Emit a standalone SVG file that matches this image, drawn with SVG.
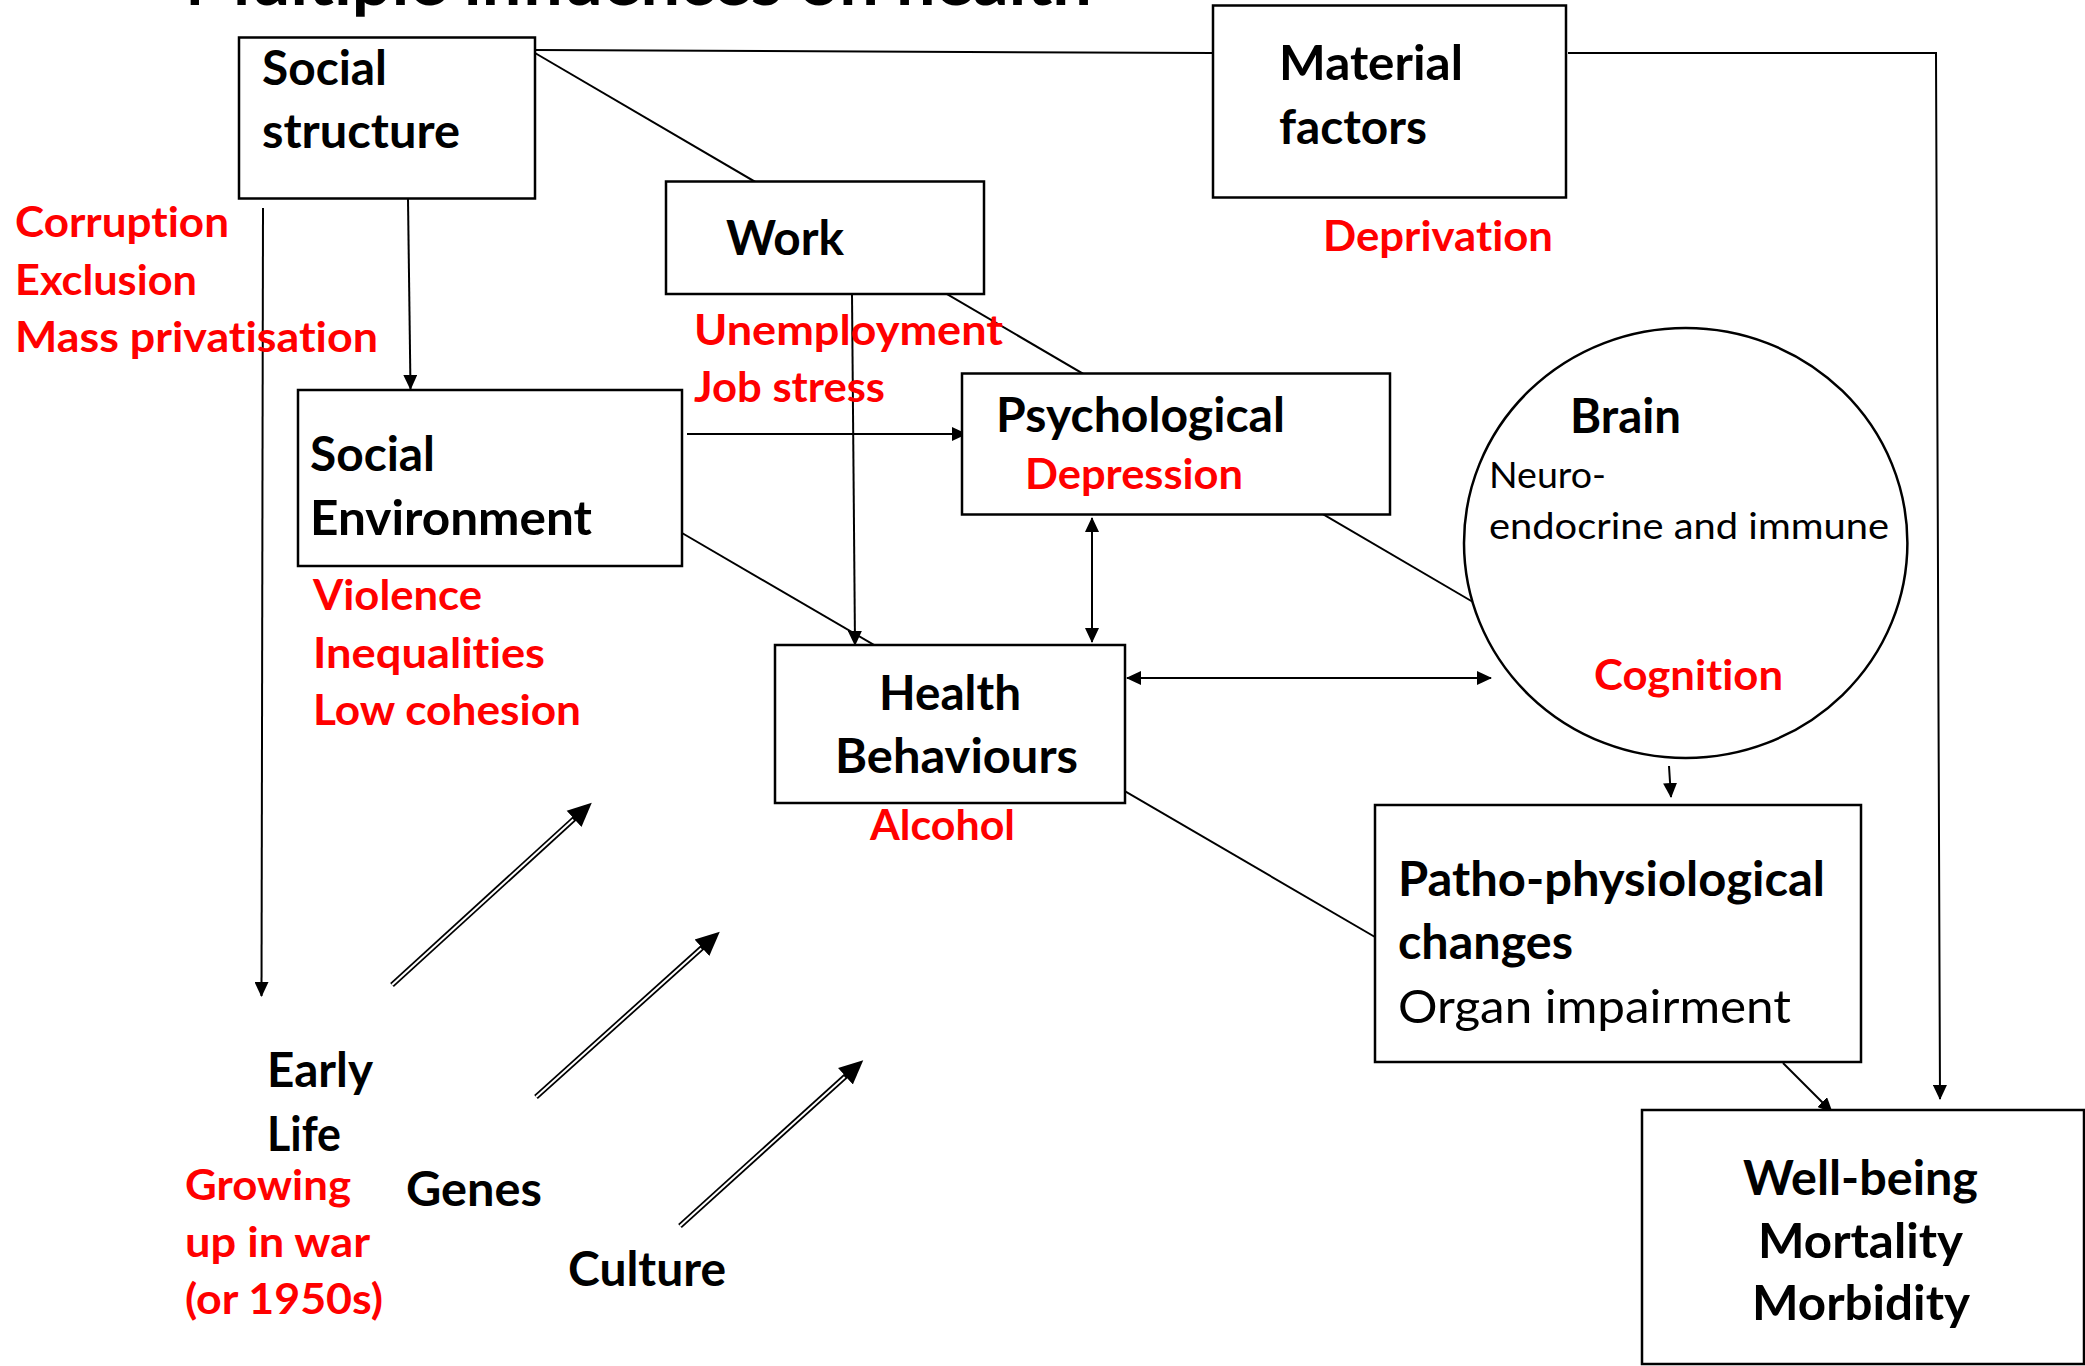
<svg xmlns="http://www.w3.org/2000/svg" width="2085" height="1366" viewBox="0 0 2085 1366">
<style>
.box{fill:#fff;stroke:#000;stroke-width:2.5}
.ln{fill:none;stroke:#000;stroke-width:2}
.dbl{fill:none;stroke:#000;stroke-width:5.5}
.dblw{fill:none;stroke:#fff;stroke-width:2}
text{font-family:Lato,"Liberation Sans",sans-serif;font-variant-ligatures:none;font-feature-settings:"liga" 0,"clig" 0}
.b{font-weight:700;font-size:47px;fill:#000}
.t{font-weight:700;font-size:66px;fill:#000}
.n{font-weight:400;fill:#000}
.r{font-weight:700;font-size:42px;fill:#ff0000}
</style>
<defs>
<marker id="ah" markerUnits="userSpaceOnUse" viewBox="0 0 15 14" markerWidth="15" markerHeight="14" refX="14" refY="7" orient="auto-start-reverse">
<path d="M0,0 L15,7 L0,14 z" fill="#000"/>
</marker>
<marker id="bh" markerUnits="userSpaceOnUse" viewBox="0 0 25 24" markerWidth="25" markerHeight="24" refX="1" refY="12" orient="auto">
<path d="M0,1 L24,12 L0,23 z" fill="#000"/>
</marker>
</defs>
<rect width="2085" height="1366" fill="#fff"/>

<text class="t" x="185" y="5" textLength="907" lengthAdjust="spacingAndGlyphs">Multiple influences on health</text>

<g id="connectors">
<line class="ln" x1="535" y1="50" x2="1213" y2="53"/>
<line class="ln" x1="535" y1="53" x2="1473" y2="602"/>
<line class="ln" x1="682" y1="533" x2="1375" y2="937"/>
<path class="ln" d="M1568,53 L1936,53 L1940,1099" marker-end="url(#ah)"/>
<line class="ln" x1="408" y1="199" x2="410.5" y2="389" marker-end="url(#ah)"/>
<line class="ln" x1="263" y1="208" x2="261.5" y2="996" marker-end="url(#ah)"/>
<line class="ln" x1="687" y1="434" x2="966" y2="434" marker-end="url(#ah)"/>
<line class="ln" x1="852" y1="294" x2="855" y2="645" marker-end="url(#ah)"/>
<line class="ln" x1="1092" y1="518" x2="1092" y2="642" marker-start="url(#ah)" marker-end="url(#ah)"/>
<line class="ln" x1="1127" y1="678" x2="1491" y2="678" marker-start="url(#ah)" marker-end="url(#ah)"/>
<line class="ln" x1="1669" y1="766" x2="1671" y2="797" marker-end="url(#ah)"/>
<line class="ln" x1="1783" y1="1063" x2="1832" y2="1112" marker-end="url(#ah)"/>
<g id="double-arrows">
<line class="dbl" x1="392" y1="985" x2="574.8" y2="818.2" marker-end="url(#bh)"/>
<line class="dblw" x1="392" y1="985" x2="573.3" y2="819.5"/>
<line class="dbl" x1="536" y1="1097" x2="702.7" y2="947.1" marker-end="url(#bh)"/>
<line class="dblw" x1="536" y1="1097" x2="701.2" y2="948.4"/>
<line class="dbl" x1="680" y1="1226" x2="846.2" y2="1075.6" marker-end="url(#bh)"/>
<line class="dblw" x1="680" y1="1226" x2="844.7" y2="1076.9"/>
</g>
</g>

<g id="social-structure">
<rect class="box" x="239" y="37.5" width="296" height="161"/>
<text class="b" x="262" y="85" textLength="125" lengthAdjust="spacingAndGlyphs">Social</text>
<text class="b" x="262" y="148" textLength="198" lengthAdjust="spacingAndGlyphs">structure</text>
</g>
<g id="social-structure-factors">
<text class="r" x="15" y="237" textLength="214" lengthAdjust="spacingAndGlyphs">Corruption</text>
<text class="r" x="15" y="295" textLength="182" lengthAdjust="spacingAndGlyphs">Exclusion</text>
<text class="r" x="15" y="352" textLength="363" lengthAdjust="spacingAndGlyphs">Mass privatisation</text>
</g>

<g id="material-factors">
<rect class="box" x="1213" y="5.5" width="353" height="192"/>
<text class="b" x="1279" y="80" textLength="184" lengthAdjust="spacingAndGlyphs">Material</text>
<text class="b" x="1279" y="144" textLength="148" lengthAdjust="spacingAndGlyphs">factors</text>
<text class="r" x="1323" y="251" textLength="230" lengthAdjust="spacingAndGlyphs">Deprivation</text>
</g>

<g id="work">
<rect class="box" x="666" y="181.5" width="318" height="112.5"/>
<text class="b" x="726" y="255" textLength="118" lengthAdjust="spacingAndGlyphs">Work</text>
<text class="r" x="694" y="345" textLength="309" lengthAdjust="spacingAndGlyphs">Unemployment</text>
<text class="r" x="694" y="402" textLength="191" lengthAdjust="spacingAndGlyphs">Job stress</text>
</g>

<g id="social-environment">
<rect class="box" x="298" y="390" width="384" height="176"/>
<text class="b" x="310" y="471" textLength="125" lengthAdjust="spacingAndGlyphs">Social</text>
<text class="b" x="310" y="535" textLength="282" lengthAdjust="spacingAndGlyphs">Environment</text>
<text class="r" x="313" y="610" textLength="169" lengthAdjust="spacingAndGlyphs">Violence</text>
<text class="r" x="313" y="668" textLength="232" lengthAdjust="spacingAndGlyphs">Inequalities</text>
<text class="r" x="313" y="725" textLength="268" lengthAdjust="spacingAndGlyphs">Low cohesion</text>
</g>

<g id="psychological">
<rect class="box" x="962" y="373.5" width="428" height="141"/>
<text class="b" x="996" y="432" textLength="289" lengthAdjust="spacingAndGlyphs">Psychological</text>
<text class="r" x="1025" y="489" textLength="218" lengthAdjust="spacingAndGlyphs">Depression</text>
</g>

<g id="health-behaviours">
<rect class="box" x="775" y="645" width="350" height="158"/>
<text class="b" x="879" y="710" textLength="142" lengthAdjust="spacingAndGlyphs">Health</text>
<text class="b" x="835" y="773" textLength="243" lengthAdjust="spacingAndGlyphs">Behaviours</text>
<text class="r" x="870" y="840" textLength="145" lengthAdjust="spacingAndGlyphs">Alcohol</text>
</g>

<g id="brain">
<ellipse class="box" cx="1685.7" cy="543" rx="221.7" ry="215"/>
<text class="b" x="1570" y="433" textLength="111" lengthAdjust="spacingAndGlyphs">Brain</text>
<text class="n" x="1489" y="488" font-size="36" textLength="117" lengthAdjust="spacingAndGlyphs">Neuro-</text>
<text class="n" x="1489" y="539" font-size="36" textLength="400" lengthAdjust="spacingAndGlyphs">endocrine and immune</text>
<text class="r" x="1594" y="690" textLength="189" lengthAdjust="spacingAndGlyphs">Cognition</text>
</g>

<g id="patho-physiological">
<rect class="box" x="1375" y="805" width="486" height="257"/>
<text class="b" x="1398" y="896" textLength="427" lengthAdjust="spacingAndGlyphs">Patho-physiological</text>
<text class="b" x="1398" y="959" textLength="175" lengthAdjust="spacingAndGlyphs">changes</text>
<text class="n" x="1398" y="1023" font-size="47" textLength="393" lengthAdjust="spacingAndGlyphs">Organ impairment</text>
</g>

<g id="outcomes">
<rect class="box" x="1642" y="1110" width="442" height="254"/>
<text class="b" x="1743" y="1195" textLength="235" lengthAdjust="spacingAndGlyphs">Well-being</text>
<text class="b" x="1758" y="1258" textLength="205" lengthAdjust="spacingAndGlyphs">Mortality</text>
<text class="b" x="1752" y="1320" textLength="218" lengthAdjust="spacingAndGlyphs">Morbidity</text>
</g>

<g id="early-life">
<text class="b" x="267" y="1087" textLength="106" lengthAdjust="spacingAndGlyphs">Early</text>
<text class="b" x="267" y="1151" textLength="74" lengthAdjust="spacingAndGlyphs">Life</text>
<text class="r" x="185" y="1200" textLength="166" lengthAdjust="spacingAndGlyphs">Growing</text>
<text class="r" x="185" y="1257" textLength="185" lengthAdjust="spacingAndGlyphs">up in war</text>
<text class="r" x="185" y="1314" textLength="198" lengthAdjust="spacingAndGlyphs">(or 1950s)</text>
</g>

<g id="genes">
<text class="b" x="406" y="1206" textLength="136" lengthAdjust="spacingAndGlyphs">Genes</text>
</g>

<g id="culture">
<text class="b" x="568" y="1286" textLength="158" lengthAdjust="spacingAndGlyphs">Culture</text>
</g>
</svg>
